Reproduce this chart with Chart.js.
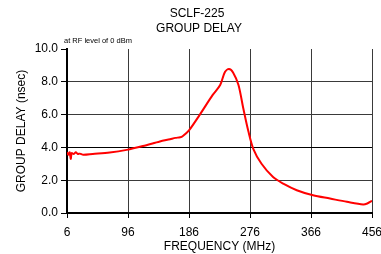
<!DOCTYPE html>
<html lang="en">
    <head>
        <meta charset="UTF-8" />
        <title>SCLF-225 Group Delay</title>
        <script src="https://cdn.jsdelivr.net/npm/chart.js"></script>
        <style>
            /* fixed size canvas to match the reference window */
            html, body {
                margin: 0;
                padding: 0;
                background: #ffffff;
            }
            .chart-container {
                width: 381px;
                height: 254px;
                position: relative;
            }
        </style>
    </head>
    <body>
        <div class="chart-container">
            <canvas id="delayChart"></canvas>
        </div>

        <script>
            // values
            const freqMHz = [6, 8, 10, 11.5, 13, 16, 19, 22, 25, 30, 44, 69, 94, 118, 143, 158, 166, 173, 177, 186, 202, 221, 232, 239, 245, 251, 259, 266, 273.5, 281, 293, 310, 325, 345, 369, 394, 419, 443, 449, 456];
            const delayNs = [3.7, 3.55, 3.7, 3.3, 3.65, 3.6, 3.7, 3.6, 3.62, 3.55, 3.6, 3.69, 3.85, 4.08, 4.36, 4.5, 4.58, 4.62, 4.7, 5.04, 6.0, 7.2, 7.8, 8.6, 8.78, 8.57, 7.8, 6.4, 5.0, 3.9, 3.0, 2.19, 1.79, 1.39, 1.08, 0.88, 0.68, 0.52, 0.58, 0.74];
            const xTicks = [6, 96, 186, 276, 366, 456];
            const yTicks = [0, 2, 4, 6, 8, 10];

            const points = freqMHz.map((f, i) => ({ x: f, y: delayNs[i] }));

            // title lines drawn at fixed spots like the original
            const headerText = {
                id: 'headerText',
                afterDraw(chart) {
                    const c = chart.ctx;
                    c.save();
                    c.fillStyle = '#000';
                    c.textBaseline = 'middle';
                    c.textAlign = 'center';
                    c.font = '12px "Liberation Sans", Arial, sans-serif';
                    c.fillText('SCLF-225', 197, 14);
                    c.fillText('GROUP DELAY', 199, 29);
                    c.textAlign = 'left';
                    c.font = '7.5px "Liberation Sans", Arial, sans-serif';
                    c.fillText('at RF level of 0 dBm', 64, 41);
                    c.restore();
                },
            };

            const ctx = document.getElementById('delayChart').getContext('2d');
            new Chart(ctx, {
                type: 'line',
                data: {
                    datasets: [
                        {
                            data: points,
                            borderColor: '#ff0000',
                            borderWidth: 2,
                            pointRadius: 0,
                            tension: 0.3,
                            fill: false,
                        },
                    ],
                },
                options: {
                    responsive: true,
                    maintainAspectRatio: false,
                    animation: false,
                    layout: {
                        padding: { top: 49, right: 9, left: 0, bottom: 0 },
                    },
                    plugins: {
                        legend: { display: false },
                        tooltip: { enabled: false },
                    },
                    scales: {
                        x: {
                            type: 'linear',
                            min: 6,
                            max: 456,
                            afterBuildTicks: (axis) => {
                                axis.ticks = xTicks.map((v) => ({ value: v }));
                            },
                            afterFit: (axis) => {
                                axis.height = 41;
                                axis.paddingLeft = 0;
                                axis.paddingRight = 0;
                            },
                            grid: {
                                color: (c) => (c.tick && c.tick.value === 6 ? 'rgba(0,0,0,0)' : '#3a3a3a'),
                                tickColor: '#000',
                                tickLength: 5,
                                lineWidth: 1,
                            },
                            border: { color: '#000', width: 2 },
                            ticks: {
                                color: '#000',
                                padding: 7,
                                maxRotation: 0,
                                font: { size: 12, family: '"Liberation Sans", Arial, sans-serif' },
                            },
                            title: {
                                display: true,
                                text: 'FREQUENCY (MHz)',
                                color: '#000',
                                padding: { top: 0, bottom: 0 },
                                font: { size: 12, family: '"Liberation Sans", Arial, sans-serif' },
                            },
                        },
                        y: {
                            min: 0,
                            max: 10,
                            afterBuildTicks: (axis) => {
                                axis.ticks = yTicks.map((v) => ({ value: v }));
                            },
                            afterFit: (axis) => {
                                axis.width = 67;
                                axis.paddingTop = 0;
                                axis.paddingBottom = 0;
                            },
                            grid: {
                                color: (c) => {
                                    const v = c.tick ? c.tick.value : -1;
                                    if (v === 10 || v === 0) return 'rgba(0,0,0,0)';
                                    return v === 4 ? '#000' : '#3a3a3a';
                                },
                                tickColor: '#000',
                                tickLength: 6,
                                lineWidth: 1,
                            },
                            border: { color: '#000', width: 2 },
                            ticks: {
                                color: '#000',
                                padding: 3,
                                callback: (v) => Number(v).toFixed(1),
                                font: { size: 12, family: '"Liberation Sans", Arial, sans-serif' },
                            },
                            title: {
                                display: true,
                                text: 'GROUP DELAY (nsec)',
                                color: '#000',
                                padding: { top: 14, bottom: 0 },
                                font: { size: 12, family: '"Liberation Sans", Arial, sans-serif' },
                            },
                        },
                    },
                },
                plugins: [headerText],
            });
        </script>
    </body>
</html>
